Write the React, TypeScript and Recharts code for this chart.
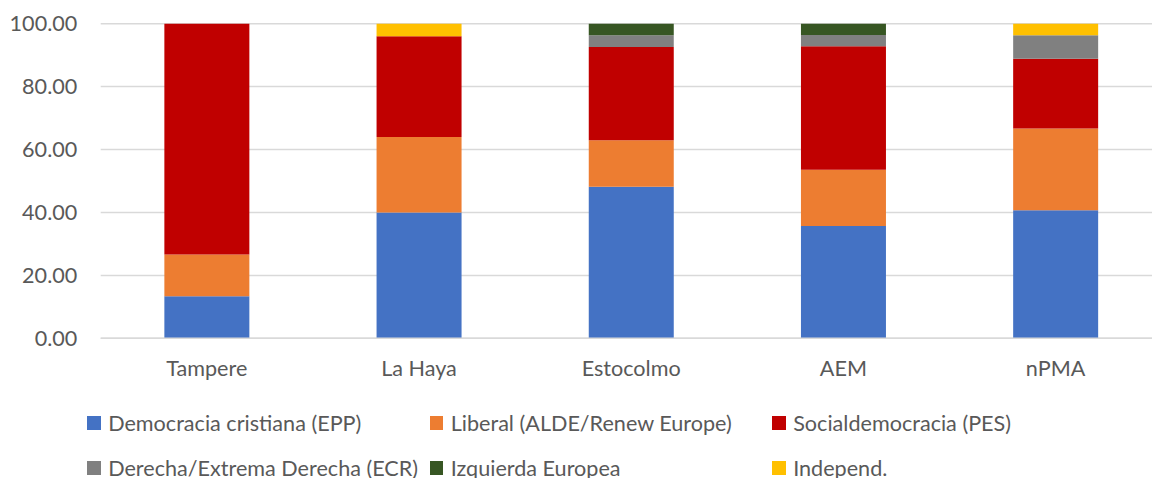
import React from 'react';
import { BarChart, Bar, XAxis, YAxis, CartesianGrid, Legend } from 'recharts';

const categories = ['Tampere', 'La Haya', 'Estocolmo', 'AEM', 'nPMA'];
const epp = [13.33, 40.0, 48.15, 35.71, 40.74];
const alde = [13.33, 24.0, 14.81, 17.86, 25.93];
const pes = [73.33, 32.0, 29.63, 39.29, 22.22];
const ecr = [0, 0, 3.7, 3.57, 7.41];
const gue = [0, 0, 3.7, 3.57, 0];
const indep = [0, 4.0, 0, 0, 3.7];
const yTicks = [0, 20, 40, 60, 80, 100];

const seriesNames = [
  'Democracia cristiana (EPP)',
  'Liberal (ALDE/Renew Europe)',
  'Socialdemocracia (PES)',
  'Derecha/Extrema Derecha (ECR)',
  'Izquierda Europea',
  'Independ.',
];
const seriesKeys = ['epp', 'alde', 'pes', 'ecr', 'gue', 'indep'];
const seriesColors = ['#4472C4', '#ED7D31', '#C00000', '#808080', '#375623', '#FFC000'];

const data = categories.map((c, i) => ({
  name: c,
  epp: epp[i],
  alde: alde[i],
  pes: pes[i],
  ecr: ecr[i],
  gue: gue[i],
  indep: indep[i],
}));

const FONT = 'Lato, "Open Sans", sans-serif';
const TEXT = '#595959';
const FS = 21.6;

const renderLegend = () => (
  <div
    style={{
      display: 'grid',
      gridTemplateColumns: 'repeat(3, 342.5px)',
      gridAutoRows: '45px',
      paddingLeft: 87.3,
      fontFamily: FONT,
      fontSize: FS,
      color: TEXT,
    }}
  >
    {seriesNames.map((n, i) => (
      <div key={n} style={{ display: 'flex', alignItems: 'center', height: 26, whiteSpace: 'nowrap' }}>
        <span
          style={{
            display: 'inline-block',
            width: 13.3,
            height: 13.3,
            background: seriesColors[i],
            marginRight: 7.6,
            flex: 'none',
          }}
        />
        <span>{n}</span>
      </div>
    ))}
  </div>
);

export default function App() {
  return (
    <div
      style={{
        position: 'fixed',
        left: 0,
        top: 0,
        width: 1152,
        height: 478,
        overflow: 'hidden',
        background: '#fff',
      }}
    >
      <BarChart
        width={1170}
        height={478}
        data={data}
        margin={{ top: 23.7, right: 8.3, left: 0, bottom: 99.7 }}
        barCategoryGap="30%"
      >
        <CartesianGrid vertical={false} stroke="#d9d9d9" strokeWidth={1.5} />
        <XAxis
          dataKey="name"
          height={40}
          tickSize={0}
          tickMargin={22.8}
          tickLine={false}
          axisLine={{ stroke: '#d9d9d9', strokeWidth: 1.5 }}
          tick={{ fill: TEXT, fontSize: FS, fontFamily: FONT }}
        />
        <YAxis
          width={100.7}
          domain={[0, 100]}
          ticks={yTicks}
          tickFormatter={(v: number) => v.toFixed(2)}
          tickSize={0}
          tickMargin={23.4}
          tickLine={false}
          axisLine={false}
          tick={{ fill: TEXT, fontSize: FS, fontFamily: FONT }}
        />
        <Legend
          layout="horizontal"
          verticalAlign="middle"
          align="center"
          content={renderLegend}
          wrapperStyle={{ top: 410, left: 0, width: 1152 }}
        />
        {seriesKeys.map((k, i) => (
          <Bar
            key={k}
            dataKey={k}
            name={seriesNames[i]}
            stackId="a"
            fill={seriesColors[i]}
            isAnimationActive={false}
          />
        ))}
      </BarChart>
    </div>
  );
}
